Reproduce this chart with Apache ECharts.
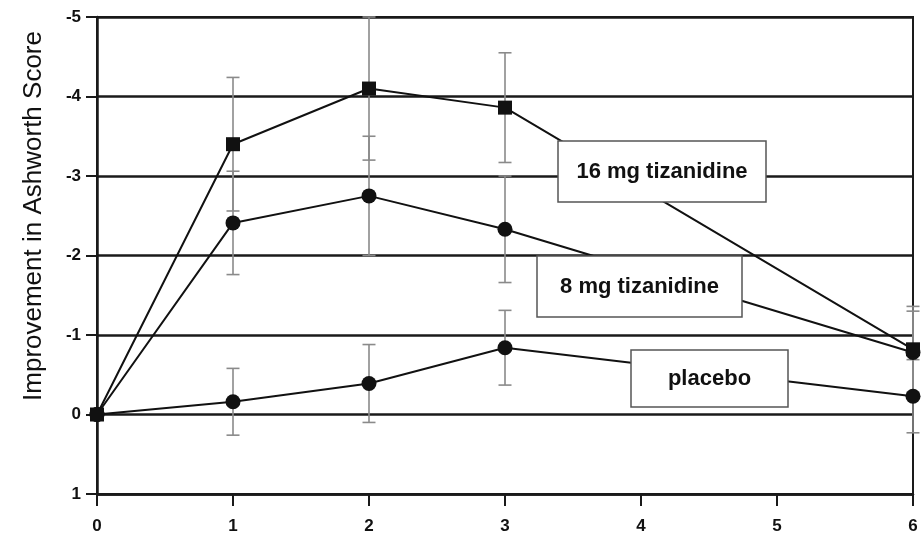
<!DOCTYPE html>
<html>
<head>
<meta charset="utf-8">
<script src="https://cdn.jsdelivr.net/npm/echarts@6/dist/echarts.min.js"></script>
<style>
html,body{margin:0;padding:0;background:#fff;}
#chart{width:922px;height:533px;}
</style>
</head>
<body>
<div id="chart"></div>
<script>
// ---- data ----
var weeks = [0, 1, 2, 3, 6];
var mg16 = [0, -3.40, -4.10, -3.86, -0.82];
var mg8 = [0, -2.41, -2.75, -2.33, -0.78];
var placebo = [0, -0.16, -0.39, -0.84, -0.23];
var err16 = [0, 0.84, 0.90, 0.69, 0.54];
var err8 = [0, 0.65, 0.75, 0.67, 0.52];
var errPlacebo = [0, 0.42, 0.49, 0.47, 0.46];
var xTicks = [0, 1, 2, 3, 4, 5, 6];
var yTicks = [-5, -4, -3, -2, -1, 0, 1];
var yTitle = 'Improvement in Ashworth Score';
var labels = ['16 mg tizanidine', '8 mg tizanidine', 'placebo'];

function pts(vals) { return weeks.map(function (w, i) { return [w, vals[i]]; }); }
function errPts(vals, errs) { return weeks.map(function (w, i) { return [w, vals[i], errs[i]]; }); }

function renderErr(params, api) {
  var x = api.value(0), y = api.value(1), e = api.value(2);
  if (!e) return null;
  var top = api.coord([x, y - e]);
  var bot = api.coord([x, y + e]);
  var hw = 6.5;
  var st = { stroke: '#8a8a8a', lineWidth: 1.6 };
  return {
    type: 'group',
    children: [
      { type: 'line', shape: { x1: top[0], y1: top[1], x2: bot[0], y2: bot[1] }, style: st },
      { type: 'line', shape: { x1: top[0] - hw, y1: top[1], x2: top[0] + hw, y2: top[1] }, style: st },
      { type: 'line', shape: { x1: bot[0] - hw, y1: bot[1], x2: bot[0] + hw, y2: bot[1] }, style: st }
    ]
  };
}

var font = '"Liberation Sans", Arial, Helvetica, sans-serif';

function lineSeries(name, vals, symbol) {
  return {
    name: name, type: 'line', data: pts(vals), z: 3,
    symbol: symbol, symbolSize: symbol === 'rect' ? 14 : 15,
    itemStyle: { color: '#111' },
    lineStyle: { color: '#111', width: 2 },
    clip: false, animation: false
  };
}
function errSeries(vals, errs) {
  return {
    type: 'custom', renderItem: renderErr, data: errPts(vals, errs),
    z: 1, clip: false, animation: false
  };
}

function box(x, y, w, h, text) {
  return {
    type: 'group', z: 100,
    children: [
      { type: 'rect', shape: { x: x, y: y, width: w, height: h },
        style: { fill: '#fff', stroke: '#555', lineWidth: 1.5 }, z: 100 },
      { type: 'text', x: x + w / 2, y: y + h / 2, z: 101,
        style: { text: text, fill: '#111', font: 'bold 22px ' + font, align: 'center', verticalAlign: 'middle' } }
    ]
  };
}

var chart = echarts.init(document.getElementById('chart'), null, { renderer: 'canvas' });
chart.setOption({
  animation: false,
  backgroundColor: '#fff',
  grid: { left: 97, right: 9, top: 17, bottom: 39, show: true, borderColor: '#1a1a1a', borderWidth: 2,
    outerBoundsMode: 'none', containLabel: false },
  xAxis: {
    type: 'value', min: 0, max: 6, interval: 1,
    axisLine: { show: true, onZero: false, lineStyle: { color: '#1a1a1a', width: 2.5 } },
    axisTick: { show: true, length: 12, lineStyle: { color: '#1a1a1a', width: 2 } },
    axisLabel: { fontSize: 17, fontWeight: 'bold', color: '#111', fontFamily: font, margin: 24,
      formatter: function (v) { return xTicks.indexOf(v) >= 0 ? String(v) : ''; } },
    splitLine: { show: false }
  },
  yAxis: {
    type: 'value', min: -5, max: 1, interval: 1, inverse: true,
    axisLine: { show: true, onZero: false, lineStyle: { color: '#1a1a1a', width: 2.5 } },
    axisTick: { show: true, length: 11, lineStyle: { color: '#1a1a1a', width: 2 } },
    axisLabel: { fontSize: 17, fontWeight: 'bold', color: '#111', fontFamily: font, margin: 16,
      formatter: function (v) { return yTicks.indexOf(v) >= 0 ? String(v) : ''; } },
    splitLine: { show: true, lineStyle: { color: '#1a1a1a', width: 2.5 } }
  },
  graphic: [
    { type: 'text', x: 34, y: 216, rotation: Math.PI / 2, z: 100,
      style: { text: yTitle, fill: '#111', font: '26px ' + font, align: 'center', verticalAlign: 'middle' } },
    box(558, 141, 208, 61, labels[0]),
    box(537, 256, 205, 61, labels[1]),
    box(631, 350, 157, 57, labels[2])
  ],
  series: [
    errSeries(placebo, errPlacebo),
    errSeries(mg8, err8),
    errSeries(mg16, err16),
    lineSeries('placebo', placebo, 'circle'),
    lineSeries('8 mg tizanidine', mg8, 'circle'),
    lineSeries('16 mg tizanidine', mg16, 'rect')
  ]
});
</script>
</body>
</html>
